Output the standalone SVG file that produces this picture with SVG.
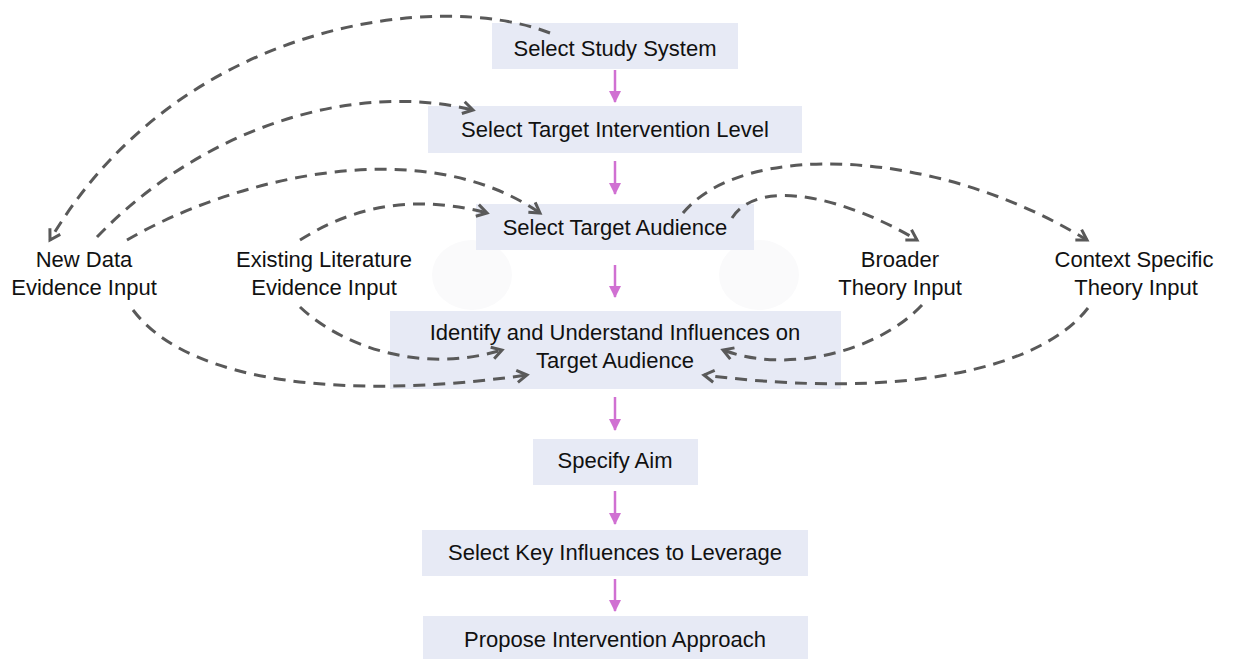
<svg xmlns="http://www.w3.org/2000/svg" width="1238" height="659" viewBox="0 0 1238 659">
<defs>
<style>
.box{fill:#e7eaf5;}
.t{font-family:"Liberation Sans",Arial,sans-serif;font-size:22px;fill:#111;text-anchor:middle;}
.dash{fill:none;stroke:#595959;stroke-width:3;stroke-dasharray:12 8;marker-end:url(#chev);}
.flow{fill:none;stroke:#d070d2;stroke-width:2.5;marker-end:url(#tri);}
.ghost{fill:#fafafb;}
</style>
<marker id="chev" markerUnits="userSpaceOnUse" viewBox="0 0 16 16" refX="13" refY="8" markerWidth="16" markerHeight="16" orient="auto">
<path d="M3,2 L13,8 L3,14" fill="none" stroke="#595959" stroke-width="3" stroke-dasharray="none" stroke-linejoin="miter"/>
</marker>
<marker id="tri" markerUnits="userSpaceOnUse" viewBox="0 0 12 12" refX="11" refY="6" markerWidth="12" markerHeight="12" orient="auto">
<path d="M0,0 L12,6 L0,12 Z" fill="#d070d2"/>
</marker>
</defs>
<rect width="1238" height="659" fill="#ffffff"/>
<ellipse class="ghost" cx="472" cy="275" rx="40" ry="35"/>
<ellipse class="ghost" cx="759" cy="275" rx="40" ry="35"/>

<g id="n-study"><rect class="box" x="492" y="23" width="246" height="46"/><text class="t" x="615" y="56">Select Study System</text></g>
<g id="n-level"><rect class="box" x="428" y="106" width="374" height="47"/><text class="t" x="615" y="137">Select Target Intervention Level</text></g>
<g id="n-audience"><rect class="box" x="476" y="204" width="278" height="46"/><text class="t" x="615" y="235">Select Target Audience</text></g>
<g id="n-identify"><rect class="box" x="390" y="311" width="451" height="78"/><text class="t" x="615" y="340">Identify and Understand Influences on</text><text class="t" x="615" y="368">Target Audience</text></g>
<g id="n-aim"><rect class="box" x="533" y="439" width="165" height="46"/><text class="t" x="615" y="468">Specify Aim</text></g>
<g id="n-key"><rect class="box" x="422" y="530" width="386" height="46"/><text class="t" x="615" y="560">Select Key Influences to Leverage</text></g>
<g id="n-propose"><rect class="box" x="423" y="616" width="385" height="50"/><text class="t" x="615" y="647">Propose Intervention Approach</text></g>

<g id="n-newdata"><text class="t" x="84" y="267">New Data</text><text class="t" x="84" y="295">Evidence Input</text></g>
<g id="n-literature"><text class="t" x="324" y="267">Existing Literature</text><text class="t" x="324" y="295">Evidence Input</text></g>
<g id="n-broader"><text class="t" x="900" y="267">Broader</text><text class="t" x="900" y="295">Theory Input</text></g>
<g id="n-context"><text class="t" x="1134" y="267">Context Specific</text><text class="t" x="1136" y="295">Theory Input</text></g>

<g id="connectors">
<path class="flow" d="M615 70 L615 102"/>
<path class="flow" d="M615 161 L615 194"/>
<path class="flow" d="M615 265 L615 297"/>
<path class="flow" d="M615 397 L615 430"/>
<path class="flow" d="M615 491 L615 524"/>
<path class="flow" d="M615 579 L615 611"/>

<path class="dash" d="M550 33 C440 -10 180 20 50 240"/>
<path class="dash" d="M97 237 C200 130 350 80 473 110"/>
<path class="dash" d="M127 240 C230 180 420 130 540 213"/>
<path class="dash" d="M300 240 C340 215 400 190 487 213"/>
<path class="dash" d="M683 213 C743 140 937 148 1087 240"/>
<path class="dash" d="M732 218 C760 175 850 200 917 240"/>
<path class="dash" d="M133 310 C190 385 350 400 527 375"/>
<path class="dash" d="M300 307 C340 345 420 375 502 350"/>
<path class="dash" d="M922 305 C880 350 790 375 723 350"/>
<path class="dash" d="M1088 308 C1040 370 900 400 704 375"/>
</g>
</svg>
